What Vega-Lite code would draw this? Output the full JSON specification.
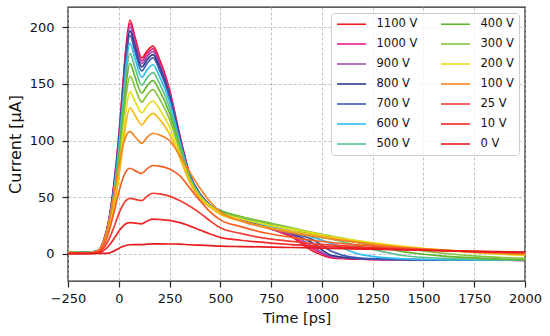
{
"$schema": "https://vega.github.io/schema/vega-lite/v6.json",
"width": 457, "height": 274,
"autosize": {"type": "none"},
"padding": {"left": 68, "top": 7, "right": 25, "bottom": 55},
"background": "white",
"config": {"view": {"stroke": "#262626", "strokeWidth": 1.4}, "font": "DejaVu Sans"},
"data": {"values": [
{"v":"1100 V","t":-250,"c":1.5},{"v":"1100 V","t":-150,"c":1.3},{"v":"1100 V","t":-100,"c":3.1},{"v":"1100 V","t":-75,"c":11.4},{"v":"1100 V","t":-50,"c":28.9},{"v":"1100 V","t":-25,"c":59.9},{"v":"1100 V","t":0,"c":103.3},{"v":"1100 V","t":20,"c":148.7},{"v":"1100 V","t":35,"c":181.7},{"v":"1100 V","t":55,"c":206.5},{"v":"1100 V","t":80,"c":191.4},{"v":"1100 V","t":113,"c":173},{"v":"1100 V","t":140,"c":179.3},{"v":"1100 V","t":168,"c":183.5},{"v":"1100 V","t":200,"c":172},{"v":"1100 V","t":250,"c":145},{"v":"1100 V","t":300,"c":105},{"v":"1100 V","t":350,"c":70},{"v":"1100 V","t":400,"c":53},{"v":"1100 V","t":450,"c":43},{"v":"1100 V","t":500,"c":38},{"v":"1100 V","t":600,"c":31},{"v":"1100 V","t":750,"c":22},{"v":"1100 V","t":850,"c":15},{"v":"1100 V","t":950,"c":3},{"v":"1100 V","t":1050,"c":-3.5},{"v":"1100 V","t":1200,"c":-4.8},{"v":"1100 V","t":1400,"c":-5.3},{"v":"1100 V","t":1600,"c":-5.5},{"v":"1100 V","t":1800,"c":-5.6},{"v":"1100 V","t":2000,"c":-5.7},
{"v":"1000 V","t":-250,"c":1.5},{"v":"1000 V","t":-150,"c":1.3},{"v":"1000 V","t":-100,"c":3.1},{"v":"1000 V","t":-75,"c":11.2},{"v":"1000 V","t":-50,"c":28.5},{"v":"1000 V","t":-25,"c":59},{"v":"1000 V","t":0,"c":101.8},{"v":"1000 V","t":20,"c":146.5},{"v":"1000 V","t":35,"c":179.1},{"v":"1000 V","t":55,"c":203.5},{"v":"1000 V","t":80,"c":188.6},{"v":"1000 V","t":113,"c":170.5},{"v":"1000 V","t":140,"c":176.8},{"v":"1000 V","t":168,"c":181},{"v":"1000 V","t":200,"c":169.7},{"v":"1000 V","t":250,"c":143.3},{"v":"1000 V","t":300,"c":104.1},{"v":"1000 V","t":350,"c":69.7},{"v":"1000 V","t":400,"c":52.8},{"v":"1000 V","t":450,"c":43},{"v":"1000 V","t":500,"c":38},{"v":"1000 V","t":600,"c":31},{"v":"1000 V","t":750,"c":22},{"v":"1000 V","t":850,"c":16},{"v":"1000 V","t":950,"c":5},{"v":"1000 V","t":1050,"c":-3},{"v":"1000 V","t":1200,"c":-4.6},{"v":"1000 V","t":1400,"c":-5.2},{"v":"1000 V","t":1600,"c":-5.5},{"v":"1000 V","t":1800,"c":-5.6},{"v":"1000 V","t":2000,"c":-5.7},
{"v":"900 V","t":-250,"c":1.5},{"v":"900 V","t":-150,"c":1.3},{"v":"900 V","t":-100,"c":3},{"v":"900 V","t":-75,"c":11},{"v":"900 V","t":-50,"c":28.1},{"v":"900 V","t":-25,"c":58.1},{"v":"900 V","t":0,"c":100.3},{"v":"900 V","t":20,"c":144.4},{"v":"900 V","t":35,"c":176.4},{"v":"900 V","t":55,"c":200.5},{"v":"900 V","t":80,"c":185.9},{"v":"900 V","t":113,"c":168},{"v":"900 V","t":140,"c":174.3},{"v":"900 V","t":168,"c":178.5},{"v":"900 V","t":200,"c":167.5},{"v":"900 V","t":250,"c":141.6},{"v":"900 V","t":300,"c":103.2},{"v":"900 V","t":350,"c":69.4},{"v":"900 V","t":400,"c":52.7},{"v":"900 V","t":450,"c":42.9},{"v":"900 V","t":500,"c":38},{"v":"900 V","t":600,"c":31},{"v":"900 V","t":750,"c":22},{"v":"900 V","t":850,"c":17},{"v":"900 V","t":950,"c":7},{"v":"900 V","t":1050,"c":-2.5},{"v":"900 V","t":1200,"c":-4.5},{"v":"900 V","t":1400,"c":-5.2},{"v":"900 V","t":1600,"c":-5.5},{"v":"900 V","t":1800,"c":-5.6},{"v":"900 V","t":2000,"c":-5.7},
{"v":"800 V","t":-250,"c":1.5},{"v":"800 V","t":-150,"c":1.3},{"v":"800 V","t":-100,"c":3},{"v":"800 V","t":-75,"c":10.8},{"v":"800 V","t":-50,"c":27.6},{"v":"800 V","t":-25,"c":57.1},{"v":"800 V","t":0,"c":98.5},{"v":"800 V","t":20,"c":141.8},{"v":"800 V","t":35,"c":173.4},{"v":"800 V","t":55,"c":197},{"v":"800 V","t":80,"c":182.6},{"v":"800 V","t":113,"c":165},{"v":"800 V","t":140,"c":171.6},{"v":"800 V","t":168,"c":176},{"v":"800 V","t":200,"c":165.2},{"v":"800 V","t":250,"c":139.9},{"v":"800 V","t":300,"c":102.4},{"v":"800 V","t":350,"c":69.1},{"v":"800 V","t":400,"c":52.5},{"v":"800 V","t":450,"c":42.8},{"v":"800 V","t":500,"c":38},{"v":"800 V","t":600,"c":31.5},{"v":"800 V","t":750,"c":22.5},{"v":"800 V","t":850,"c":18},{"v":"800 V","t":950,"c":10},{"v":"800 V","t":1050,"c":-1.5},{"v":"800 V","t":1200,"c":-4.3},{"v":"800 V","t":1400,"c":-5.1},{"v":"800 V","t":1600,"c":-5.4},{"v":"800 V","t":1800,"c":-5.5},{"v":"800 V","t":2000,"c":-5.6},
{"v":"700 V","t":-250,"c":1.5},{"v":"700 V","t":-150,"c":1.3},{"v":"700 V","t":-100,"c":2.9},{"v":"700 V","t":-75,"c":10.6},{"v":"700 V","t":-50,"c":27},{"v":"700 V","t":-25,"c":56},{"v":"700 V","t":0,"c":96.5},{"v":"700 V","t":20,"c":139},{"v":"700 V","t":35,"c":169.8},{"v":"700 V","t":55,"c":193},{"v":"700 V","t":80,"c":178.8},{"v":"700 V","t":113,"c":161.5},{"v":"700 V","t":140,"c":168.4},{"v":"700 V","t":168,"c":173},{"v":"700 V","t":200,"c":162.5},{"v":"700 V","t":250,"c":137.9},{"v":"700 V","t":300,"c":101.3},{"v":"700 V","t":350,"c":68.7},{"v":"700 V","t":400,"c":52.4},{"v":"700 V","t":450,"c":42.8},{"v":"700 V","t":500,"c":38},{"v":"700 V","t":600,"c":31.5},{"v":"700 V","t":750,"c":23},{"v":"700 V","t":850,"c":18.5},{"v":"700 V","t":950,"c":13},{"v":"700 V","t":1050,"c":2},{"v":"700 V","t":1200,"c":-4},{"v":"700 V","t":1400,"c":-5},{"v":"700 V","t":1600,"c":-5.3},{"v":"700 V","t":1800,"c":-5.5},{"v":"700 V","t":2000,"c":-5.6},
{"v":"600 V","t":-250,"c":1.5},{"v":"600 V","t":-150,"c":1.3},{"v":"600 V","t":-100,"c":2.8},{"v":"600 V","t":-75,"c":10.2},{"v":"600 V","t":-50,"c":26},{"v":"600 V","t":-25,"c":53.9},{"v":"600 V","t":0,"c":93},{"v":"600 V","t":20,"c":133.9},{"v":"600 V","t":35,"c":163.7},{"v":"600 V","t":55,"c":186},{"v":"600 V","t":80,"c":172.5},{"v":"600 V","t":113,"c":156},{"v":"600 V","t":140,"c":162.6},{"v":"600 V","t":168,"c":167},{"v":"600 V","t":200,"c":157},{"v":"600 V","t":250,"c":133.8},{"v":"600 V","t":300,"c":99.2},{"v":"600 V","t":350,"c":68},{"v":"600 V","t":400,"c":52},{"v":"600 V","t":450,"c":42.7},{"v":"600 V","t":500,"c":38},{"v":"600 V","t":600,"c":32},{"v":"600 V","t":750,"c":24},{"v":"600 V","t":850,"c":20},{"v":"600 V","t":950,"c":15},{"v":"600 V","t":1050,"c":9},{"v":"600 V","t":1200,"c":-1},{"v":"600 V","t":1400,"c":-4.5},{"v":"600 V","t":1600,"c":-5.2},{"v":"600 V","t":1800,"c":-5.4},{"v":"600 V","t":2000,"c":-5.5},
{"v":"500 V","t":-250,"c":1.4},{"v":"500 V","t":-150,"c":1.2},{"v":"500 V","t":-100,"c":2.7},{"v":"500 V","t":-75,"c":9.7},{"v":"500 V","t":-50,"c":24.8},{"v":"500 V","t":-25,"c":51.3},{"v":"500 V","t":0,"c":88.5},{"v":"500 V","t":20,"c":127.4},{"v":"500 V","t":35,"c":155.8},{"v":"500 V","t":55,"c":177},{"v":"500 V","t":80,"c":164.4},{"v":"500 V","t":113,"c":149},{"v":"500 V","t":140,"c":155.6},{"v":"500 V","t":168,"c":160},{"v":"500 V","t":200,"c":150.7},{"v":"500 V","t":250,"c":129},{"v":"500 V","t":300,"c":96.8},{"v":"500 V","t":350,"c":67.1},{"v":"500 V","t":400,"c":51.5},{"v":"500 V","t":450,"c":42.5},{"v":"500 V","t":500,"c":38},{"v":"500 V","t":600,"c":32.5},{"v":"500 V","t":750,"c":26},{"v":"500 V","t":850,"c":22},{"v":"500 V","t":950,"c":17},{"v":"500 V","t":1050,"c":13},{"v":"500 V","t":1200,"c":6},{"v":"500 V","t":1400,"c":-1.5},{"v":"500 V","t":1600,"c":-4},{"v":"500 V","t":1800,"c":-5},{"v":"500 V","t":2000,"c":-5.4},
{"v":"400 V","t":-250,"c":1.3},{"v":"400 V","t":-150,"c":1.1},{"v":"400 V","t":-100,"c":2.5},{"v":"400 V","t":-75,"c":9.2},{"v":"400 V","t":-50,"c":23.5},{"v":"400 V","t":-25,"c":48.7},{"v":"400 V","t":0,"c":84},{"v":"400 V","t":20,"c":121},{"v":"400 V","t":35,"c":147.8},{"v":"400 V","t":55,"c":168},{"v":"400 V","t":80,"c":156.3},{"v":"400 V","t":113,"c":142},{"v":"400 V","t":140,"c":148.6},{"v":"400 V","t":168,"c":153},{"v":"400 V","t":200,"c":144.3},{"v":"400 V","t":250,"c":124.2},{"v":"400 V","t":300,"c":94.3},{"v":"400 V","t":350,"c":66.2},{"v":"400 V","t":400,"c":51.1},{"v":"400 V","t":450,"c":42.4},{"v":"400 V","t":500,"c":38},{"v":"400 V","t":600,"c":33},{"v":"400 V","t":750,"c":27},{"v":"400 V","t":850,"c":23},{"v":"400 V","t":950,"c":18.5},{"v":"400 V","t":1050,"c":14.5},{"v":"400 V","t":1200,"c":9},{"v":"400 V","t":1400,"c":2},{"v":"400 V","t":1600,"c":-2},{"v":"400 V","t":1800,"c":-4},{"v":"400 V","t":2000,"c":-5.2},
{"v":"300 V","t":-250,"c":1.2},{"v":"300 V","t":-150,"c":1},{"v":"300 V","t":-100,"c":2.4},{"v":"300 V","t":-75,"c":8.6},{"v":"300 V","t":-50,"c":22},{"v":"300 V","t":-25,"c":45.5},{"v":"300 V","t":0,"c":78.5},{"v":"300 V","t":20,"c":113},{"v":"300 V","t":35,"c":138.2},{"v":"300 V","t":55,"c":157},{"v":"300 V","t":80,"c":146.7},{"v":"300 V","t":113,"c":134},{"v":"300 V","t":140,"c":140.6},{"v":"300 V","t":168,"c":145},{"v":"300 V","t":200,"c":137.1},{"v":"300 V","t":250,"c":118.8},{"v":"300 V","t":300,"c":91.5},{"v":"300 V","t":350,"c":65.2},{"v":"300 V","t":400,"c":50.6},{"v":"300 V","t":450,"c":42.2},{"v":"300 V","t":500,"c":37},{"v":"300 V","t":600,"c":32.5},{"v":"300 V","t":750,"c":26.5},{"v":"300 V","t":850,"c":23},{"v":"300 V","t":950,"c":19},{"v":"300 V","t":1050,"c":15.5},{"v":"300 V","t":1200,"c":10.5},{"v":"300 V","t":1400,"c":5},{"v":"300 V","t":1600,"c":0.5},{"v":"300 V","t":1800,"c":-2.5},{"v":"300 V","t":2000,"c":-4},
{"v":"200 V","t":-250,"c":1.1},{"v":"200 V","t":-150,"c":0.9},{"v":"200 V","t":-100,"c":2.1},{"v":"200 V","t":-75,"c":7.9},{"v":"200 V","t":-50,"c":20},{"v":"200 V","t":-25,"c":41.5},{"v":"200 V","t":0,"c":71.5},{"v":"200 V","t":20,"c":103},{"v":"200 V","t":35,"c":125.8},{"v":"200 V","t":55,"c":143},{"v":"200 V","t":80,"c":134.7},{"v":"200 V","t":113,"c":124.5},{"v":"200 V","t":140,"c":130.8},{"v":"200 V","t":168,"c":135},{"v":"200 V","t":200,"c":128},{"v":"200 V","t":250,"c":112},{"v":"200 V","t":300,"c":88},{"v":"200 V","t":350,"c":64},{"v":"200 V","t":400,"c":50},{"v":"200 V","t":450,"c":42},{"v":"200 V","t":500,"c":36},{"v":"200 V","t":600,"c":31},{"v":"200 V","t":750,"c":25},{"v":"200 V","t":850,"c":22},{"v":"200 V","t":950,"c":18.5},{"v":"200 V","t":1050,"c":15},{"v":"200 V","t":1200,"c":11},{"v":"200 V","t":1400,"c":6.5},{"v":"200 V","t":1600,"c":3},{"v":"200 V","t":1800,"c":0.5},{"v":"200 V","t":2000,"c":-1.5},
{"v":"150 V","t":-250,"c":1},{"v":"150 V","t":-150,"c":0.8},{"v":"150 V","t":-100,"c":2},{"v":"150 V","t":-75,"c":7.7},{"v":"150 V","t":-50,"c":20},{"v":"150 V","t":-25,"c":40},{"v":"150 V","t":0,"c":67},{"v":"150 V","t":20,"c":95},{"v":"150 V","t":35,"c":115},{"v":"150 V","t":55,"c":129},{"v":"150 V","t":80,"c":122.3},{"v":"150 V","t":113,"c":114},{"v":"150 V","t":140,"c":120},{"v":"150 V","t":168,"c":124},{"v":"150 V","t":200,"c":119},{"v":"150 V","t":250,"c":106},{"v":"150 V","t":300,"c":85},{"v":"150 V","t":350,"c":63},{"v":"150 V","t":400,"c":49},{"v":"150 V","t":450,"c":41},{"v":"150 V","t":500,"c":35},{"v":"150 V","t":600,"c":29},{"v":"150 V","t":750,"c":23},{"v":"150 V","t":850,"c":20},{"v":"150 V","t":950,"c":17},{"v":"150 V","t":1050,"c":14},{"v":"150 V","t":1200,"c":10},{"v":"150 V","t":1400,"c":6},{"v":"150 V","t":1600,"c":3.5},{"v":"150 V","t":1800,"c":1},{"v":"150 V","t":2000,"c":-0.5},
{"v":"100 V","t":-250,"c":0.6},{"v":"100 V","t":-150,"c":0.5},{"v":"100 V","t":-100,"c":3.2},{"v":"100 V","t":-75,"c":10.8},{"v":"100 V","t":-50,"c":27},{"v":"100 V","t":-25,"c":50.8},{"v":"100 V","t":0,"c":77.8},{"v":"100 V","t":20,"c":95},{"v":"100 V","t":35,"c":103.7},{"v":"100 V","t":55,"c":108},{"v":"100 V","t":80,"c":103.4},{"v":"100 V","t":113,"c":97.7},{"v":"100 V","t":140,"c":103},{"v":"100 V","t":168,"c":106.5},{"v":"100 V","t":200,"c":105},{"v":"100 V","t":250,"c":100},{"v":"100 V","t":300,"c":87},{"v":"100 V","t":350,"c":72},{"v":"100 V","t":400,"c":58},{"v":"100 V","t":450,"c":46},{"v":"100 V","t":500,"c":37},{"v":"100 V","t":600,"c":29},{"v":"100 V","t":750,"c":22},{"v":"100 V","t":850,"c":18.5},{"v":"100 V","t":950,"c":15.5},{"v":"100 V","t":1050,"c":13},{"v":"100 V","t":1200,"c":9.5},{"v":"100 V","t":1400,"c":5.5},{"v":"100 V","t":1600,"c":3},{"v":"100 V","t":1800,"c":1},{"v":"100 V","t":2000,"c":-0.5},
{"v":"50 V","t":-250,"c":0.4},{"v":"50 V","t":-150,"c":0.4},{"v":"50 V","t":-100,"c":2.3},{"v":"50 V","t":-75,"c":7.6},{"v":"50 V","t":-50,"c":18.9},{"v":"50 V","t":-25,"c":35.5},{"v":"50 V","t":0,"c":54.4},{"v":"50 V","t":20,"c":66.5},{"v":"50 V","t":35,"c":72.6},{"v":"50 V","t":55,"c":75.6},{"v":"50 V","t":80,"c":73.5},{"v":"50 V","t":113,"c":71},{"v":"50 V","t":140,"c":75.2},{"v":"50 V","t":168,"c":78},{"v":"50 V","t":200,"c":77.5},{"v":"50 V","t":250,"c":75},{"v":"50 V","t":300,"c":69},{"v":"50 V","t":350,"c":58},{"v":"50 V","t":400,"c":47},{"v":"50 V","t":450,"c":37},{"v":"50 V","t":500,"c":30},{"v":"50 V","t":600,"c":24},{"v":"50 V","t":750,"c":17.5},{"v":"50 V","t":850,"c":14.5},{"v":"50 V","t":950,"c":12},{"v":"50 V","t":1050,"c":10},{"v":"50 V","t":1200,"c":7.5},{"v":"50 V","t":1400,"c":5},{"v":"50 V","t":1600,"c":3},{"v":"50 V","t":1800,"c":1.8},{"v":"50 V","t":2000,"c":1},
{"v":"25 V","t":-250,"c":0.4},{"v":"25 V","t":-150,"c":0.4},{"v":"25 V","t":-100,"c":1.5},{"v":"25 V","t":-75,"c":4.9},{"v":"25 V","t":-50,"c":12.3},{"v":"25 V","t":-25,"c":23},{"v":"25 V","t":0,"c":35.3},{"v":"25 V","t":20,"c":43.1},{"v":"25 V","t":35,"c":47},{"v":"25 V","t":55,"c":49},{"v":"25 V","t":80,"c":48.1},{"v":"25 V","t":113,"c":47},{"v":"25 V","t":140,"c":51},{"v":"25 V","t":168,"c":53.5},{"v":"25 V","t":200,"c":53},{"v":"25 V","t":250,"c":51},{"v":"25 V","t":300,"c":47},{"v":"25 V","t":350,"c":42},{"v":"25 V","t":400,"c":36},{"v":"25 V","t":450,"c":29},{"v":"25 V","t":500,"c":23},{"v":"25 V","t":600,"c":18},{"v":"25 V","t":750,"c":13},{"v":"25 V","t":850,"c":11},{"v":"25 V","t":950,"c":9},{"v":"25 V","t":1050,"c":7.8},{"v":"25 V","t":1200,"c":6},{"v":"25 V","t":1400,"c":4.2},{"v":"25 V","t":1600,"c":2.8},{"v":"25 V","t":1800,"c":1.7},{"v":"25 V","t":2000,"c":1},
{"v":"10 V","t":-250,"c":0.3},{"v":"10 V","t":-150,"c":0.3},{"v":"10 V","t":-100,"c":0.8},{"v":"10 V","t":-75,"c":2.8},{"v":"10 V","t":-50,"c":6.9},{"v":"10 V","t":-25,"c":13},{"v":"10 V","t":0,"c":19.9},{"v":"10 V","t":20,"c":24.3},{"v":"10 V","t":35,"c":26.5},{"v":"10 V","t":55,"c":27.6},{"v":"10 V","t":80,"c":27.1},{"v":"10 V","t":113,"c":26.5},{"v":"10 V","t":140,"c":29},{"v":"10 V","t":168,"c":30.6},{"v":"10 V","t":200,"c":30.3},{"v":"10 V","t":250,"c":29.5},{"v":"10 V","t":300,"c":27.5},{"v":"10 V","t":350,"c":24.5},{"v":"10 V","t":400,"c":21},{"v":"10 V","t":450,"c":17.5},{"v":"10 V","t":500,"c":14.5},{"v":"10 V","t":600,"c":12},{"v":"10 V","t":750,"c":9.5},{"v":"10 V","t":850,"c":8.2},{"v":"10 V","t":950,"c":7},{"v":"10 V","t":1050,"c":6.2},{"v":"10 V","t":1200,"c":5},{"v":"10 V","t":1400,"c":3.8},{"v":"10 V","t":1600,"c":2.7},{"v":"10 V","t":1800,"c":1.8},{"v":"10 V","t":2000,"c":1.2},
{"v":"0 V","t":-250,"c":0.2},{"v":"0 V","t":-150,"c":0.2},{"v":"0 V","t":-100,"c":0.3},{"v":"0 V","t":-75,"c":0.4},{"v":"0 V","t":-50,"c":0.6},{"v":"0 V","t":-25,"c":2.4},{"v":"0 V","t":0,"c":4.8},{"v":"0 V","t":20,"c":6.4},{"v":"0 V","t":35,"c":7.4},{"v":"0 V","t":55,"c":8},{"v":"0 V","t":80,"c":8.1},{"v":"0 V","t":113,"c":8.2},{"v":"0 V","t":140,"c":8.5},{"v":"0 V","t":168,"c":8.8},{"v":"0 V","t":200,"c":8.8},{"v":"0 V","t":250,"c":8.7},{"v":"0 V","t":300,"c":8.5},{"v":"0 V","t":350,"c":8},{"v":"0 V","t":400,"c":7.6},{"v":"0 V","t":450,"c":7.2},{"v":"0 V","t":500,"c":6.8},{"v":"0 V","t":600,"c":6.4},{"v":"0 V","t":750,"c":6},{"v":"0 V","t":850,"c":5.6},{"v":"0 V","t":950,"c":5.2},{"v":"0 V","t":1050,"c":4.8},{"v":"0 V","t":1200,"c":4.2},{"v":"0 V","t":1400,"c":3.4},{"v":"0 V","t":1600,"c":2.7},{"v":"0 V","t":1800,"c":2.1},{"v":"0 V","t":2000,"c":1.6}
]},
"mark": {"type": "line", "strokeWidth": 1.7, "interpolate": "monotone", "clip": true},
"encoding": {
  "x": {"field": "t", "type": "quantitative",
    "scale": {"domain": [-250, 2000], "nice": false, "zero": false},
    "axis": {"title": "Time [ps]", "values": [-250, 0, 250, 500, 750, 1000, 1250, 1500, 1750, 2000], "format": "d",
      "domain": false, "tickColor": "#222", "tickWidth": 1.2, "tickSize": 6,
      "labelFont": "DejaVu Sans", "labelFontSize": 13, "labelColor": "#111", "labelPadding": 5,
      "labelFlush": false, "labelOverlap": false,
      "grid": true, "gridColor": "#b5b5b5", "gridDash": [3, 2], "gridWidth": 0.8,
      "titleFont": "DejaVu Sans", "titleFontSize": 14.5, "titleFontWeight": "normal", "titleColor": "#111", "titlePadding": 6}},
  "y": {"field": "c", "type": "quantitative",
    "scale": {"domain": [-24, 218], "nice": false, "zero": false},
    "axis": {"title": "Current [µA]", "values": [0, 50, 100, 150, 200], "format": "d",
      "domain": false, "tickColor": "#222", "tickWidth": 1.2, "tickSize": 6,
      "labelFont": "DejaVu Sans", "labelFontSize": 13, "labelColor": "#111", "labelPadding": 8,
      "labelFlush": false, "labelOverlap": false,
      "grid": true, "gridColor": "#b5b5b5", "gridDash": [3, 2], "gridWidth": 0.8,
      "titleFont": "DejaVu Sans", "titleFontSize": 16, "titleFontWeight": "normal", "titleColor": "#111", "titlePadding": 6}},
  "color": {"field": "v", "type": "nominal",
    "scale": {
      "domain": ["1100 V","1000 V","900 V","800 V","700 V","600 V","500 V","400 V","300 V","200 V","100 V","25 V","10 V","0 V","150 V","50 V"],
      "range": ["#ee1c25","#ec1a8a","#9d4fa8","#2f3a8f","#3d5cb0","#2fbdef","#5cc28d","#62b72f","#86c440","#e4de1a","#f58426","#f23d33","#f02525","#e61c1c","#f5b90f","#f65f22"]},
    "legend": {"title": null, "values": ["1100 V","1000 V","900 V","800 V","700 V","600 V","500 V","400 V","300 V","200 V","100 V","25 V","10 V","0 V"],
      "orient": "top-right", "offset": 6, "columns": 2, "padding": 5,
      "strokeColor": "#cccccc", "cornerRadius": 3, "fillColor": "rgba(255,255,255,0.8)",
      "labelFont": "DejaVu Sans", "labelFontSize": 11.5, "labelColor": "#111",
      "symbolType": "M-2.9,0H2.9", "symbolSize": 100, "symbolStrokeWidth": 1.6, "symbolOffset": 9.5,
      "labelOffset": 19, "columnPadding": 19, "rowPadding": 8}}
}
}
